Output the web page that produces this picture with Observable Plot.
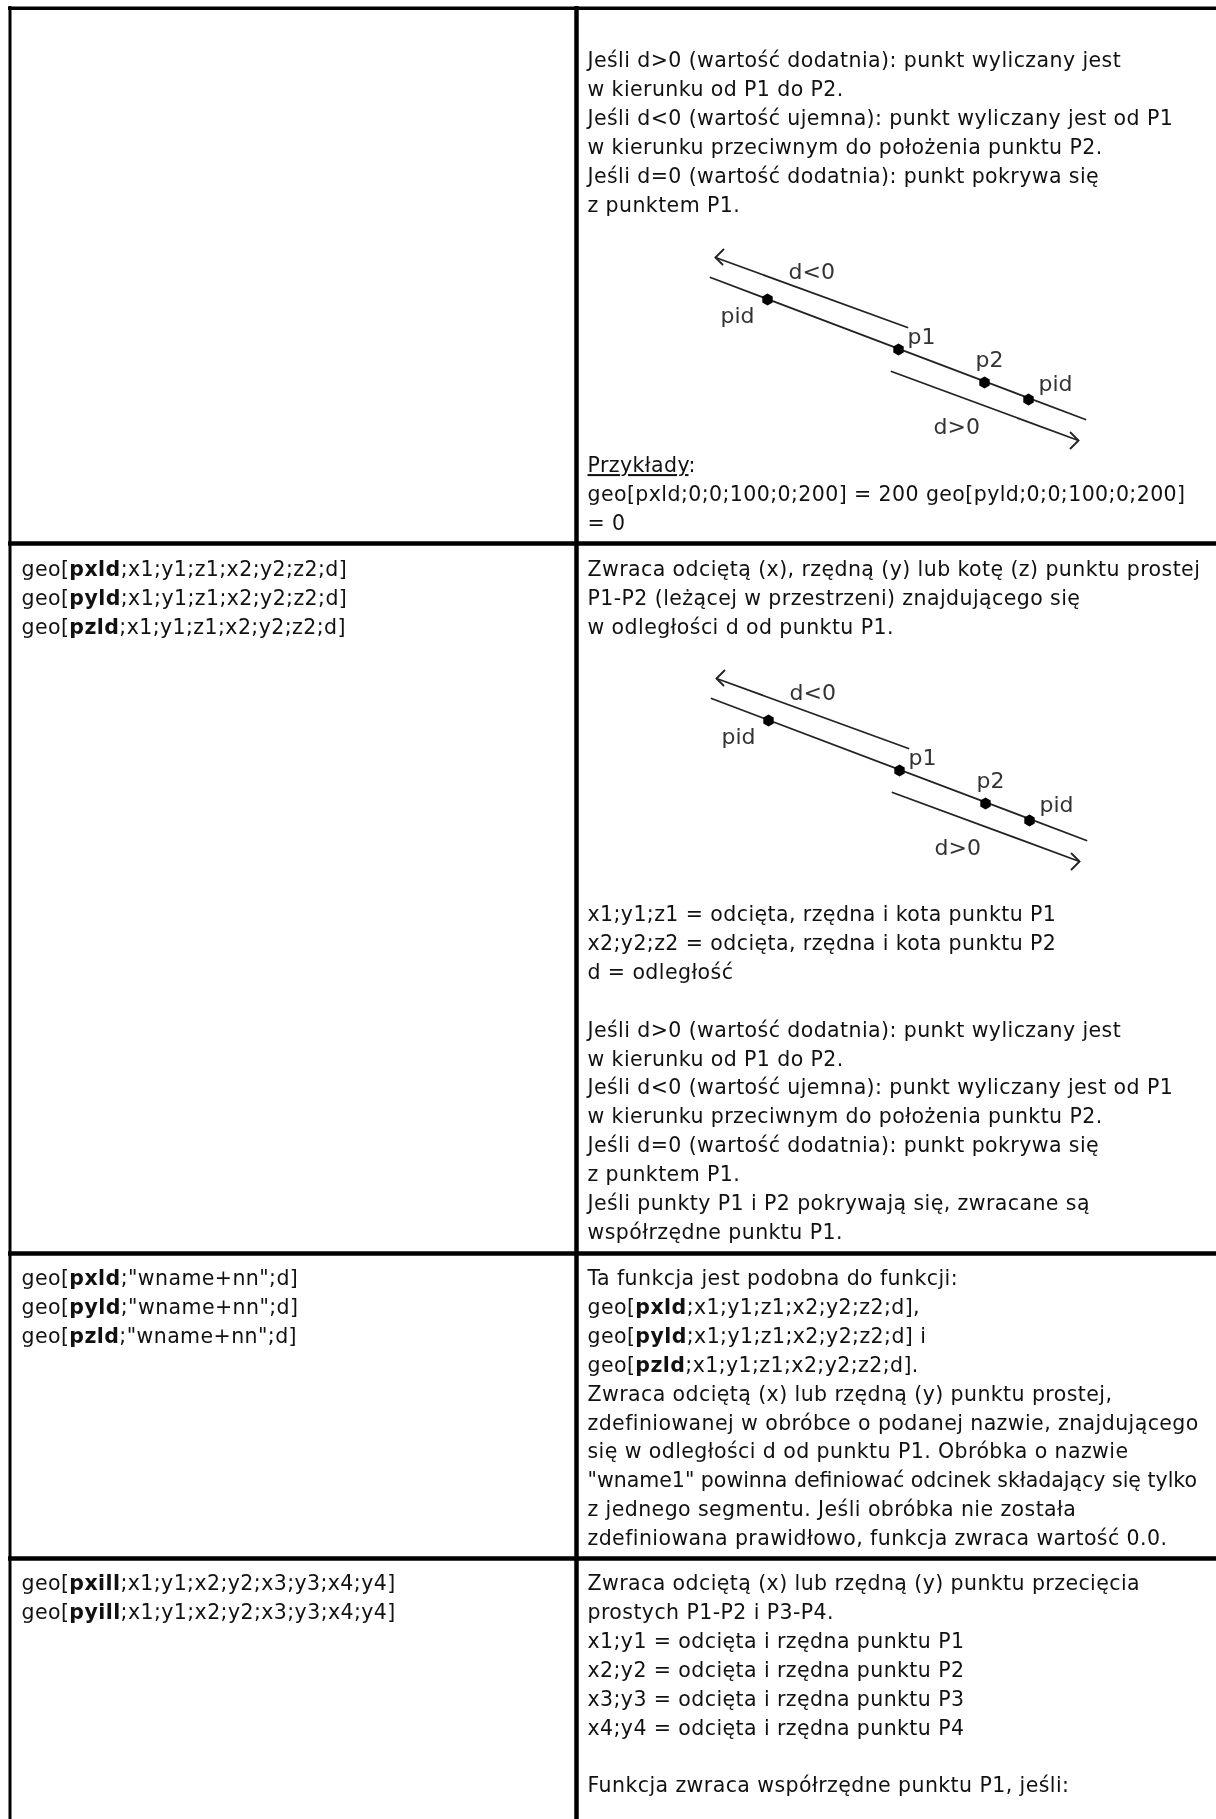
<!DOCTYPE html>
<html><head><meta charset="utf-8">
<style>html,body{margin:0;padding:0;background:#fff}svg{display:block;filter:blur(.4px)}.doc text{letter-spacing:.42px}</style>
<script src="https://cdn.jsdelivr.net/npm/d3@7"></script>
<script src="https://cdn.jsdelivr.net/npm/@observablehq/plot@0.6"></script>
</head><body><div id="c"></div>
<script>
const rowRules=[543,1253,1558];
const leftCells=[
 {y:569,lines:["geo[**pxld**;x1;y1;z1;x2;y2;z2;d]","geo[**pyld**;x1;y1;z1;x2;y2;z2;d]","geo[**pzld**;x1;y1;z1;x2;y2;z2;d]"]},
 {y:1278,lines:['geo[**pxld**;"wname+nn";d]','geo[**pyld**;"wname+nn";d]','geo[**pzld**;"wname+nn";d]']},
 {y:1583,lines:["geo[**pxill**;x1;y1;x2;y2;x3;y3;x4;y4]","geo[**pyill**;x1;y1;x2;y2;x3;y3;x4;y4]"]}
];
const rightCells=[
 {y:60,lines:["Jeśli d>0 (wartość dodatnia): punkt wyliczany jest","w kierunku od P1 do P2.","Jeśli d<0 (wartość ujemna): punkt wyliczany jest od P1","w kierunku przeciwnym do położenia punktu P2.","Jeśli d=0 (wartość dodatnia): punkt pokrywa się","z punktem P1."]},
 {y:465,lines:["__Przykłady__:","geo[pxld;0;0;100;0;200] = 200 geo[pyld;0;0;100;0;200]","= 0"]},
 {y:569,lines:["Zwraca odciętą (x), rzędną (y) lub kotę (z) punktu prostej","P1-P2 (leżącej w przestrzeni) znajdującego się","w odległości d od punktu P1."]},
 {y:914,lines:["x1;y1;z1 = odcięta, rzędna i kota punktu P1","x2;y2;z2 = odcięta, rzędna i kota punktu P2","d = odległość","","Jeśli d>0 (wartość dodatnia): punkt wyliczany jest","w kierunku od P1 do P2.","Jeśli d<0 (wartość ujemna): punkt wyliczany jest od P1","w kierunku przeciwnym do położenia punktu P2.","Jeśli d=0 (wartość dodatnia): punkt pokrywa się","z punktem P1.","Jeśli punkty P1 i P2 pokrywają się, zwracane są","współrzędne punktu P1."]},
 {y:1278,lines:["Ta funkcja jest podobna do funkcji:","geo[**pxld**;x1;y1;z1;x2;y2;z2;d],","geo[**pyld**;x1;y1;z1;x2;y2;z2;d] i","geo[**pzld**;x1;y1;z1;x2;y2;z2;d].","Zwraca odciętą (x) lub rzędną (y) punktu prostej,","zdefiniowanej w obróbce o podanej nazwie, znajdującego","się w odległości d od punktu P1. Obróbka o nazwie","\"wname1\" powinna definiować odcinek składający się tylko","z jednego segmentu. Jeśli obróbka nie została","zdefiniowana prawidłowo, funkcja zwraca wartość 0.0."]},
 {y:1583,lines:["Zwraca odciętą (x) lub rzędną (y) punktu przecięcia","prostych P1-P2 i P3-P4.","x1;y1 = odcięta i rzędna punktu P1","x2;y2 = odcięta i rzędna punktu P2","x3;y3 = odcięta i rzędna punktu P3","x4;y4 = odcięta i rzędna punktu P4","","Funkcja zwraca współrzędne punktu P1, jeśli:"]}
];
const leftX=21,rightX=587,lineStep=28.9;
const diagramOffsets=[[0,0],[1,421]];
const strokes=[
 [[715,257],[907,327]],[[723,249],[715,257],[722,264]],
 [[710,277],[1085,419]],
 [[891,371],[1078,440]],[[1070,432],[1078,440],[1070,448]]
];
const dots=[[767,299],[898,349],[984,382],[1028,399]];
const labels=[["d<0",788,278],["pid",720,322],["p1",907,343],["p2",975,366],["pid",1038,390],["d>0",933,433]];

const textRows=[];
for(const c of leftCells)c.lines.forEach((t,i)=>textRows.push({x:leftX,y:c.y+i*lineStep,t}));
for(const c of rightCells)c.lines.forEach((t,i)=>{if(t)textRows.push({x:rightX,y:c.y+i*lineStep,t})});
const segs=[],dotRows=[],labelRows=[];
diagramOffsets.forEach(([dx,dy],k)=>{
 strokes.forEach((s,i)=>s.forEach(([x,y])=>segs.push({x:x+dx,y:y+dy,g:k+"-"+i})));
 dots.forEach(([x,y])=>dotRows.push({x:x+dx,y:y+dy}));
 labels.forEach(([t,x,y])=>labelRows.push({t,x:x+dx,y:y+dy}));
});
const chart=Plot.plot({
 width:1216,height:1819,margin:0,
 x:{domain:[0,1216],range:[0,1216],axis:null},
 y:{domain:[0,1819],range:[0,1819],axis:null},
 style:{background:"#fff"},
 marks:[
  Plot.ruleY([7.7],{stroke:"#000",strokeWidth:3.5,x1:8,x2:1216}),
  Plot.ruleX([9.5],{stroke:"#000",strokeWidth:3,y1:6,y2:1819}),
  Plot.ruleX([576],{stroke:"#000",strokeWidth:4.5,y1:6,y2:1819}),
  Plot.ruleY(rowRules,{stroke:"#000",strokeWidth:4.5,x1:8,x2:1216}),
  Plot.line(segs,{x:"x",y:"y",z:"g",stroke:"#222",strokeWidth:1.8,curve:"linear"}),
  Plot.dot(dotRows,{x:"x",y:"y",r:5.2,fill:"#000",symbol:"hexagon"}),
  Plot.text(labelRows,{x:"x",y:"y",text:"t",textAnchor:"start",lineAnchor:"bottom",fontFamily:"DejaVu Sans",fontSize:22,fill:"#333"}),
  Plot.text(textRows,{x:"x",y:"y",text:"t",textAnchor:"start",lineAnchor:"middle",fontFamily:"DejaVu Sans",fontSize:20.5,fill:"#111",className:"doc"})
 ]
});
d3.select(chart).selectAll(".doc text").each(function(){
 const el=d3.select(this),s=el.text();
 if(s.startsWith('"wname1"'))el.style("letter-spacing","0");
 if(!/\*\*|__/.test(s))return;
 el.text(null);
 s.split(/(\*\*.*?\*\*|__.*?__)/).filter(Boolean).forEach(p=>{
  if(p.startsWith("**"))el.append("tspan").attr("font-weight","bold").text(p.slice(2,-2));
  else if(p.startsWith("__"))el.append("tspan").attr("text-decoration","underline").text(p.slice(2,-2));
  else el.append("tspan").text(p);
 });
});
document.getElementById("c").append(chart);
</script></body></html>
